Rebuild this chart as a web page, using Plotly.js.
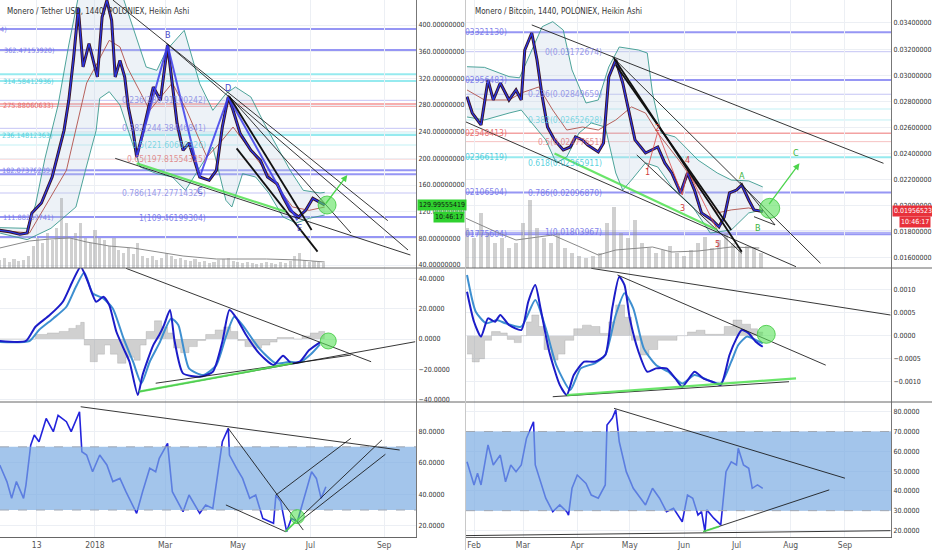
<!DOCTYPE html>
<html><head><meta charset="utf-8">
<script src="https://cdn.plot.ly/plotly-3.0.1.min.js"></script>
<style>html,body{margin:0;padding:0;background:#fff;}#chart{width:932px;height:550px;}</style>
</head><body><div id="chart"></div>
<script>
// ================= LEFT: Monero / Tether USD =================
const usdTitle = 'Monero / Tether USD, 1440, POLONIEX, Heikin Ashi';
const usdDates = ['2017-10-13','2017-10-21','2017-10-30','2017-11-05','2017-11-09','2017-11-17','2017-11-26','2017-12-02','2017-12-06','2017-12-10','2017-12-14','2017-12-18','2017-12-22','2017-12-27','2018-01-03','2018-01-07','2018-01-11','2018-01-15','2018-01-18','2018-01-22','2018-01-26','2018-01-29','2018-02-02','2018-02-05','2018-02-10','2018-02-19','2018-02-25','2018-03-03','2018-03-07','2018-03-11','2018-03-16','2018-03-21','2018-03-30','2018-04-07','2018-04-13','2018-04-18','2018-04-23','2018-04-27','2018-05-03','2018-05-12','2018-05-20','2018-05-26','2018-06-03','2018-06-08','2018-06-14','2018-06-21','2018-06-27','2018-07-03','2018-07-08','2018-07-13'];
const usdClose = [92,90,86,88,118,133,172,212,242,287,350,425,337,372,322,412,437,407,322,347,322,277,242,202,237,307,287,370,307,252,212,223,172,167,182,247,292,272,237,212,197,172,162,142,122,112,122,140,135,130];
const usdUpperDates = ['2017-10-13','2017-11-05','2017-11-12','2017-11-20','2017-12-01','2017-12-10','2017-12-20','2018-01-10','2018-01-22','2018-02-02','2018-02-13','2018-02-22','2018-03-02','2018-03-17','2018-03-30','2018-04-10','2018-04-21','2018-04-29','2018-05-12','2018-05-23','2018-06-03','2018-06-14','2018-06-25','2018-07-09','2018-07-13'];
const usdUpper = [96,95,130,200,280,370,460,480,455,397,337,332,362,392,312,272,297,307,292,253,217,182,152,148,149];
const usdLowerDates = ['2017-10-13','2017-11-05','2017-11-25','2017-12-16','2017-12-24','2018-01-02','2018-01-05','2018-01-13','2018-01-22','2018-01-30','2018-02-08','2018-02-22','2018-03-07','2018-03-18','2018-03-30','2018-04-10','2018-04-21','2018-04-26','2018-05-05','2018-05-16','2018-05-27','2018-06-08','2018-06-19','2018-06-30','2018-07-13'];
const usdLower = [88,78,95,127,182,242,290,300,280,237,187,177,172,152,187,217,137,127,177,172,148,112,103,110,115];
const usdMidDates = ['2017-10-13','2017-11-07','2017-12-08','2017-12-16','2017-12-25','2018-01-13','2018-01-22','2018-01-28','2018-02-16','2018-03-07','2018-03-19','2018-04-05','2018-04-16','2018-04-27','2018-05-13','2018-05-30','2018-06-16','2018-06-30','2018-07-13'];
const usdMid = [92,88,182,242,313,377,367,337,272,313,272,202,223,247,208,167,127,122,127];
const usdWaveDates = ['2018-02-05','2018-03-03','2018-03-30','2018-04-23','2018-06-20'];
const usdWave = [202,370,172,292,107];
const usdVolDates = ['2017-10-13','2017-10-17','2017-10-21','2017-10-25','2017-10-29','2017-11-02','2017-11-06','2017-11-10','2017-11-14','2017-11-18','2017-11-22','2017-11-26','2017-11-30','2017-12-04','2017-12-08','2017-12-12','2017-12-16','2017-12-20','2017-12-24','2017-12-28','2018-01-01','2018-01-05','2018-01-09','2018-01-13','2018-01-17','2018-01-21','2018-01-25','2018-01-29','2018-02-02','2018-02-06','2018-02-10','2018-02-14','2018-02-18','2018-02-22','2018-02-26','2018-03-02','2018-03-06','2018-03-10','2018-03-14','2018-03-18','2018-03-22','2018-03-26','2018-03-30','2018-04-03','2018-04-07','2018-04-11','2018-04-15','2018-04-19','2018-04-23','2018-04-27','2018-05-01','2018-05-05','2018-05-09','2018-05-13','2018-05-17','2018-05-21','2018-05-25','2018-05-29','2018-06-02','2018-06-06','2018-06-10','2018-06-14','2018-06-18','2018-06-22','2018-06-26','2018-06-30','2018-07-04','2018-07-08','2018-07-12'];
const usdVol = [8,10,6,9,7,8,12,22,30,25,35,28,40,70,45,30,35,45,30,25,38,30,28,22,30,18,15,20,14,25,12,10,12,8,10,15,12,9,10,8,7,9,6,7,5,6,8,9,10,7,6,5,6,5,4,5,6,5,4,6,5,7,12,15,8,6,7,6,5];
const usdVolMaDates = ['2017-10-13','2017-11-07','2017-11-24','2017-12-11','2017-12-25','2018-01-13','2018-02-02','2018-03-16','2018-04-13','2018-05-25','2018-06-22','2018-07-13'];
const usdVolMa = [20,27,29,30,26,22,20,12,9,9,8,6];
const usdFibLevels = [394,362.5,326,316,287,280,245,238,235,220,199,182,176,148,112,82];
const usdFibStyle  = ['P','P','C','C','p','R','p','c','C','c','r','P','P','p','P','P'];
const usdEdgeLabels = ['4)','362.47153920)','314.58412936)','275.88060633)','236.14812363)','182.07376239)','111.88267741)'];
const usdEdgeLevels = [394,362.5,316,280,235,182,112];
const usdEdgeStyle  = ['P','P','C','R','C','P','P'];
const usdEdgeEnd = [9,57,56,56,55,55,56];
const usdInnerLabels = ['0.236(286.91100242)','0.382(244.38446841)','0.5(221.60669326)','0.65(197.81554325)','0.786(147.27714325)','1(109.46199304)'];
const usdInnerLevels = [287,245,220,199,148,110];
const usdInnerStyle  = ['p','p','c','r','p','P'];
const usdLetters = ['B','C','D','E'];
const usdLetterDates = ['2018-03-03','2018-03-30','2018-04-23','2018-06-22'];
const usdLetterVals = [385,151,305.5,95.5];
const usdTopLines = [['2018-01-16',437.5,'2018-09-04',106.5],['2018-03-02',372.5,'2018-09-21',62.5],['2018-04-23',295,'2018-08-04',88],['2018-01-18',200,'2018-09-23',55]];
const usdTopThick = [['2018-04-24',292.5,'2018-07-02',92.5],['2018-04-30',215,'2018-07-07',60]];
const usdTopGreen = [['2018-02-05',192.5,'2018-06-10',120]];
const usdArrow = ['2018-07-13',130,'2018-08-01',175];
const usdCircle = ['2018-07-15',130];
const usdLast = '129.99555419';
const usdMacdDates = ['2017-10-13','2017-11-04','2017-11-12','2017-11-24','2017-12-05','2017-12-13','2017-12-20','2017-12-26','2018-01-02','2018-01-08','2018-01-13','2018-01-19','2018-01-25','2018-01-30','2018-02-06','2018-02-10','2018-02-19','2018-02-24','2018-02-28','2018-03-05','2018-03-09','2018-03-16','2018-03-30','2018-04-10','2018-04-18','2018-04-24','2018-04-30','2018-05-08','2018-05-19','2018-05-31','2018-06-08','2018-06-15','2018-06-22','2018-06-30','2018-07-09'];
const usdMacd = [-1.3,-1.3,8.1,15.8,24.6,37.8,47.7,37.8,24.6,27.9,22.4,4.8,-6.2,-15,-37,-23.8,-4,2.6,9.2,19.1,-1.8,-22.7,-24.9,-21.6,-1.8,19.1,13.6,2.6,-9.5,-17.2,-11,-16,-15,-7.3,-2.2];
const usdSigDates = ['2017-10-13','2017-11-07','2017-11-15','2017-11-27','2017-12-08','2017-12-16','2017-12-23','2017-12-30','2018-01-08','2018-01-16','2018-01-25','2018-02-02','2018-02-09','2018-02-16','2018-02-24','2018-03-06','2018-03-12','2018-03-21','2018-04-02','2018-04-13','2018-04-21','2018-04-28','2018-05-05','2018-05-19','2018-06-02','2018-06-14','2018-06-22','2018-07-02','2018-07-09'];
const usdSig = [-2,-1.3,6,13.6,21.3,34.5,44,30.2,26.8,20.2,0.4,-15,-29.3,-15,-2.9,13.6,9.2,-19.4,-23.8,-17.2,1.5,14.7,9.2,-6.2,-16,-15,-15.5,-9.5,-3.5];
const usdHistDates = ['2017-10-13','2017-11-06','2017-11-12','2017-11-22','2017-12-02','2017-12-10','2017-12-16','2017-12-20','2017-12-23','2017-12-28','2018-01-03','2018-01-09','2018-01-14','2018-01-20','2018-01-27','2018-02-03','2018-02-08','2018-02-13','2018-02-20','2018-02-26','2018-03-03','2018-03-08','2018-03-14','2018-03-21','2018-03-28','2018-04-04','2018-04-12','2018-04-19','2018-04-25','2018-05-01','2018-05-07','2018-05-14','2018-05-21','2018-05-28','2018-06-03','2018-06-10','2018-06-17','2018-06-24','2018-07-01','2018-07-08','2018-07-13'];
const usdHist = [0,0,3,4,5,7,9,11,-4,-15,-10,-4,-10,-16,-12,-14,-4,5,12,8,4,-6,-9,-5,-1,3,6,8,5,-1,-5,-6,-4,-2,1,1,0,2,4,5,3];
const usdMacdLines = [['2018-01-27',46.7,'2018-08-21',-15],['2018-02-07',-34.8,'2018-09-27',-1.8],['2018-02-21',-29.2,'2018-08-04',-10.6]];
const usdMacdGreen = [['2018-02-07',-34.8,'2018-06-16',-16]];
const usdMacdCircle = ['2018-07-16',-1.3];
const usdRsiDates = ['2017-10-13','2017-10-19','2017-10-23','2017-10-27','2017-11-02','2017-11-04','2017-11-08','2017-11-11','2017-11-15','2017-11-21','2017-11-27','2017-12-01','2017-12-08','2017-12-12','2017-12-19','2017-12-21','2017-12-25','2017-12-30','2018-01-05','2018-01-11','2018-01-16','2018-01-22','2018-01-27','2018-02-05','2018-02-10','2018-02-16','2018-02-21','2018-02-24','2018-03-03','2018-03-07','2018-03-16','2018-03-21','2018-03-30','2018-04-04','2018-04-10','2018-04-14','2018-04-18','2018-04-23','2018-04-24','2018-04-30','2018-05-05','2018-05-11','2018-05-16','2018-05-22','2018-05-31','2018-06-02','2018-06-06','2018-06-11','2018-06-15','2018-06-20','2018-06-25','2018-07-02','2018-07-06','2018-07-10','2018-07-14'];
const usdRsi = [58.5,48,37.4,48,37.4,45.8,71,77.5,73.2,88,79.6,90,85.9,79.6,92.2,66.9,64.8,54.2,64.8,58.5,48,50,41.6,27.9,41.6,56.4,54.2,62.7,72.2,41.6,28.9,39.5,27.9,33.2,31,52.2,73.2,81.7,64.8,56.4,50,37.4,39.5,24.7,21.6,39.5,35.3,16.3,24.7,22.6,35.3,54.2,50,37.4,44.7];
const usdRsiLines = [['2017-12-20',95.4,'2018-09-14',68],['2018-04-23',81.7,'2018-06-25',17.3],['2018-04-21',33.2,'2018-06-10',16.3],['2018-06-02',39.5,'2018-08-04',75.4],['2018-06-10',16.3,'2018-08-30',74.3],['2018-06-20',21.6,'2018-09-02',65.3]];
const usdRsiGreen = [['2018-06-10',16.3,'2018-06-22',25]];
const usdRsiCircle = ['2018-06-20',25.8];
const usdTickVals = ['2017-11-13','2018-01-01','2018-03-01','2018-05-01','2018-07-01','2018-09-01'];
const usdTickText = ['13','2018','Mar','May','Jul','Sep'];

// ================= RIGHT: Monero / Bitcoin =================
const btcTitle = 'Monero / Bitcoin, 1440, POLONIEX, Heikin Ashi';
const btcDates = ['2018-01-28','2018-01-31','2018-02-05','2018-02-09','2018-02-12','2018-02-16','2018-02-21','2018-02-25','2018-02-28','2018-03-02','2018-03-06','2018-03-09','2018-03-12','2018-03-15','2018-03-19','2018-03-24','2018-03-28','2018-03-31','2018-04-04','2018-04-07','2018-04-13','2018-04-16','2018-04-19','2018-04-23','2018-04-27','2018-05-01','2018-05-04','2018-05-10','2018-05-14','2018-05-17','2018-05-21','2018-05-25','2018-05-30','2018-06-03','2018-06-07','2018-06-11','2018-06-17','2018-06-21','2018-06-24','2018-06-27','2018-07-01','2018-07-04','2018-07-08','2018-07-11','2018-07-16'];
const btcClose = [0.02835,0.0271,0.02619,0.02963,0.0281,0.0294,0.0281,0.02887,0.0281,0.03193,0.03323,0.03117,0.02835,0.02603,0.02504,0.02427,0.0245,0.02527,0.02504,0.02465,0.02412,0.02481,0.02986,0.03117,0.0294,0.0268,0.02504,0.02404,0.02427,0.0245,0.02328,0.02251,0.02098,0.02251,0.0212,0.01945,0.01891,0.01838,0.01914,0.02098,0.0212,0.02159,0.02044,0.01968,0.01956];
const btcUpperDates = ['2018-01-28','2018-02-07','2018-02-21','2018-02-27','2018-03-12','2018-03-18','2018-03-24','2018-03-29','2018-04-06','2018-04-13','2018-04-19','2018-04-25','2018-05-06','2018-05-11','2018-05-14','2018-05-19','2018-05-27','2018-06-09','2018-06-20','2018-06-28','2018-07-08','2018-07-16'];
const btcUpper = [0.03065,0.0306,0.02989,0.0298,0.03372,0.0341,0.03346,0.0304,0.02787,0.0281,0.03063,0.03216,0.03193,0.0317,0.02864,0.02557,0.02527,0.0235,0.02251,0.02197,0.0219,0.02144];
const btcLowerDates = ['2018-01-28','2018-02-07','2018-02-21','2018-02-28','2018-03-14','2018-03-20','2018-03-26','2018-04-02','2018-04-09','2018-04-17','2018-04-23','2018-04-27','2018-05-02','2018-05-10','2018-05-17','2018-05-25','2018-06-06','2018-06-16','2018-06-28','2018-07-08','2018-07-16'];
const btcLower = [0.0268,0.02657,0.0271,0.02733,0.02504,0.02328,0.02374,0.02557,0.02634,0.02603,0.02251,0.0212,0.02197,0.02328,0.02297,0.02144,0.01991,0.01791,0.01814,0.01945,0.01968];
const btcMidDates = ['2018-01-28','2018-02-07','2018-02-21','2018-02-28','2018-03-10','2018-03-18','2018-03-26','2018-04-04','2018-04-13','2018-04-23','2018-05-02','2018-05-10','2018-05-17','2018-05-29','2018-06-09','2018-06-20','2018-06-28','2018-07-08','2018-07-16'];
const btcMid = [0.02887,0.0281,0.0281,0.02864,0.0291,0.02733,0.0258,0.02603,0.0258,0.02657,0.02757,0.0271,0.02557,0.0235,0.02144,0.01945,0.01968,0.01983,0.01953];
const btcWaveDates = ['2018-05-11','2018-05-17','2018-05-31','2018-06-03','2018-06-20'];
const btcWave = [0.02274,0.02567,0.02082,0.02274,0.01814];
const btcVolDates = ['2018-01-28','2018-02-01','2018-02-05','2018-02-09','2018-02-13','2018-02-17','2018-02-21','2018-02-25','2018-03-01','2018-03-05','2018-03-09','2018-03-13','2018-03-17','2018-03-21','2018-03-25','2018-03-29','2018-04-02','2018-04-06','2018-04-10','2018-04-14','2018-04-18','2018-04-22','2018-04-26','2018-04-30','2018-05-04','2018-05-08','2018-05-12','2018-05-16','2018-05-20','2018-05-24','2018-05-28','2018-06-01','2018-06-05','2018-06-09','2018-06-13','2018-06-17','2018-06-21','2018-06-25','2018-06-29','2018-07-03','2018-07-07','2018-07-11','2018-07-15'];
const btcVol = [40,30,55,35,25,30,20,25,45,68,40,30,25,35,20,15,12,10,12,15,45,61,35,30,48,25,20,15,18,22,15,12,18,25,31,20,28,35,25,18,22,20,15];
const btcVolMaDates = ['2018-01-27','2018-02-15','2018-02-25','2018-03-18','2018-04-04','2018-04-13','2018-04-23','2018-05-14','2018-05-25','2018-06-09','2018-06-28','2018-07-14'];
const btcVolMa = [50,35,28,33,20,13,18,21,16,17,21,20];
const btcFibLevels = [0.03329,0.0318,0.02963,0.02854,0.02741,0.02657,0.02555,0.02491,0.02372,0.02102,0.01801,0.01781];
const btcFibStyle  = ['P','p','P','p','c','c','M','r','C','P','P','P'];
const btcEdgeLabels = ['03321130)','02956483)','02548413)','02366119)','02106504)','01775604)'];
const btcEdgeLevels = [0.03329,0.02963,0.02555,0.02372,0.02102,0.01781];
const btcEdgeStyle  = ['P','P','M','C','P','P'];
const btcInnerLabels = ['0(0.03172674)','0.236(0.02849659)','0.382(0.02652628)','0.5(0.02477651)','0.618(0.02365911)','0.786(0.02096870)','1(0.01803967)'];
const btcInnerLevels = [0.0318,0.02854,0.02657,0.02491,0.0233,0.02095,0.01801];
const btcInnerStyle  = ['p','p','c','r','C','P','P'];
const btcLetters = ['A','B','C'];
const btcLetterDates = ['2018-07-04','2018-07-13','2018-08-04'];
const btcLetterVals = [0.02228,0.0183,0.02404];
const btcNums = ['1','2','3','4','5'];
const btcNumDates = ['2018-05-11','2018-05-17','2018-05-31','2018-06-03','2018-06-20'];
const btcNumVals = [0.02259,0.02596,0.01983,0.02351,0.01707];
const btcTopLines = [['2018-03-06',0.03385,'2018-09-23',0.02325],['2018-04-21',0.03142,'2018-08-18',0.01559],['2018-01-27',0.02644,'2018-08-04',0.01533],['2018-05-05',0.02389,'2018-07-04',0.01636],['2018-07-03',0.02184,'2018-07-23',0.01853],['2018-07-11',0.01916,'2018-07-23',0.01853]];
const btcTopThick = [['2018-04-22',0.0313,'2018-07-04',0.01648],['2018-04-23',0.03078,'2018-06-28',0.01814]];
const btcTopGreen = [['2018-03-19',0.024,'2018-06-20',0.01814]];
const btcArrow = ['2018-07-19',0.02,'2018-08-06',0.02325];
const btcCircle = ['2018-07-20',0.0198];
const btcLast = '0.01956523';
const btcMacdDates = ['2018-01-28','2018-02-01','2018-02-05','2018-02-09','2018-02-13','2018-02-16','2018-02-21','2018-02-28','2018-03-04','2018-03-08','2018-03-11','2018-03-16','2018-03-22','2018-03-26','2018-03-30','2018-04-05','2018-04-11','2018-04-17','2018-04-21','2018-04-25','2018-04-28','2018-05-01','2018-05-06','2018-05-11','2018-05-16','2018-05-22','2018-05-27','2018-05-31','2018-06-07','2018-06-12','2018-06-17','2018-06-22','2018-06-27','2018-07-01','2018-07-04','2018-07-08','2018-07-12','2018-07-16'];
const btcMacd = [0.000957,0.000304,-0.00002,0.000378,0.000304,0.00045,0.000233,0.000124,0.000739,0.0011,0.000596,-0.000348,-0.00107,-0.00129,-0.000855,-0.000565,-0.000565,-0.00042,0.000596,0.00128,0.0011,0.000378,-0.000348,-0.000783,-0.00071,-0.00071,-0.000927,-0.00111,-0.000783,-0.000927,-0.001,-0.00107,-0.00042,-0.000057,0.000124,0.00005,-0.00013,-0.00024];
const btcSigDates = ['2018-01-28','2018-02-02','2018-02-08','2018-02-14','2018-02-19','2018-02-28','2018-03-08','2018-03-14','2018-03-20','2018-03-28','2018-04-03','2018-04-11','2018-04-17','2018-04-23','2018-04-28','2018-05-03','2018-05-09','2018-05-16','2018-05-23','2018-05-31','2018-06-07','2018-06-15','2018-06-22','2018-06-28','2018-07-02','2018-07-07','2018-07-12','2018-07-16'];
const btcSig = [0.00132,0.000522,0.00027,0.00034,0.00027,0.000196,0.000776,0.000161,-0.000637,-0.00118,-0.00071,-0.0006,-0.00042,0.00045,0.000922,0.000596,-0.000274,-0.000637,-0.000783,-0.00104,-0.000855,-0.00097,-0.00104,-0.000565,-0.000202,-0.00002,-0.000094,-0.000166];
const btcHistDates = ['2018-01-28','2018-01-31','2018-02-04','2018-02-07','2018-02-11','2018-02-16','2018-02-20','2018-02-24','2018-02-28','2018-03-03','2018-03-06','2018-03-10','2018-03-13','2018-03-17','2018-03-21','2018-03-25','2018-03-30','2018-04-04','2018-04-09','2018-04-14','2018-04-19','2018-04-23','2018-04-28','2018-05-02','2018-05-07','2018-05-12','2018-05-17','2018-05-22','2018-05-28','2018-06-03','2018-06-08','2018-06-13','2018-06-19','2018-06-24','2018-06-29','2018-07-04','2018-07-09','2018-07-13','2018-07-16'];
const btcHist = [-0.0004,-0.00057,-0.0005,-0.0001,0.00009,0.00006,-0.00008,-0.00015,0,0.0003,0.00045,0.0002,-0.0003,-0.00053,-0.0004,-0.0001,0.00015,0.00023,0.0002,0.00005,0.0003,0.00067,0.0004,-0.0001,-0.00042,-0.0003,-0.0001,-0.0001,0,0.00008,0.00012,0.00003,0.00003,0.0002,0.00034,0.00025,0.00015,0.00008,0.00005];
const btcMacdLines = [['2018-04-09',0.001465,'2018-09-27',0.00045],['2018-04-24',0.00132,'2018-08-21',-0.00064],['2018-03-18',-0.001326,'2018-07-31',-0.001]];
const btcMacdGreen = [['2018-03-26',-0.00129,'2018-08-04',-0.000926]];
const btcMacdCircle = ['2018-07-18',0.00003];
const btcRsiDates = ['2018-01-28','2018-02-01','2018-02-03','2018-02-05','2018-02-09','2018-02-12','2018-02-16','2018-02-19','2018-02-22','2018-02-25','2018-02-28','2018-03-03','2018-03-07','2018-03-08','2018-03-14','2018-03-18','2018-03-22','2018-03-26','2018-03-27','2018-03-29','2018-04-01','2018-04-06','2018-04-09','2018-04-13','2018-04-17','2018-04-18','2018-04-21','2018-04-23','2018-04-25','2018-04-29','2018-05-03','2018-05-07','2018-05-10','2018-05-14','2018-05-18','2018-05-22','2018-05-26','2018-05-31','2018-06-03','2018-06-06','2018-06-09','2018-06-11','2018-06-13','2018-06-14','2018-06-18','2018-06-22','2018-06-25','2018-06-28','2018-07-01','2018-07-02','2018-07-05','2018-07-08','2018-07-10','2018-07-13','2018-07-16'];
const btcRsi = [54.7,43,48.9,43,63.2,53.1,58.1,44.6,53.1,49.7,53.1,66.6,74.9,53.1,36.3,29.5,32.9,29.5,27.8,41.3,48,43.8,37.9,36.3,43,73.3,76.7,80.9,64.8,49.7,41.3,36.3,32.9,41.3,36.3,29.5,31.2,24.4,37.9,36.3,27.8,29.5,19.4,30.4,26.2,22.8,49.7,54.7,53.1,61.5,53.1,51.4,41.3,43,41.3];
const btcRsiLines = [['2018-04-22',81.7,'2018-09-01',46.4],['2018-06-12',19.4,'2018-08-23',40.5],['2018-01-27',17.4,'2018-09-27',19.9]];
const btcRsiGreen = [['2018-06-12',19.4,'2018-06-21',22]];
const btcTickVals = ['2018-02-01','2018-03-01','2018-04-01','2018-05-01','2018-06-01','2018-07-01','2018-08-01','2018-09-01'];
const btcTickText = ['Feb','Mar','Apr','May','Jun','Jul','Aug','Sep'];
const lastTime = '10:46:17';
const rsiBand = [30, 70];

// ================= layout geometry / styles =================
const W = 932, H = 550;
const XL = [0, 416/W], XR = [466/W, 891/W];
const YT = [1-268/H, 1], YM = [1-402/H, 1-268/H], YB = [1-537/H, 1-402/H];
const FONT = "'Liberation Sans Narrow','DejaVu Sans Condensed','Liberation Sans',Arial,sans-serif";
const fibStyles = {
  P:{color:'rgba(115,115,240,0.75)', width:2, text:'rgba(110,110,230,0.85)'},
  p:{color:'rgba(140,140,235,0.5)', width:1, text:'rgba(130,130,225,0.8)'},
  C:{color:'rgba(80,220,228,0.6)', width:2, text:'rgba(60,200,215,0.85)'},
  c:{color:'rgba(120,225,232,0.45)', width:1, text:'rgba(90,205,220,0.75)'},
  R:{color:'rgba(240,110,110,0.55)', width:4, text:'rgba(225,90,90,0.85)'},
  M:{color:'rgba(235,100,100,0.6)', width:1.5, text:'rgba(225,90,90,0.85)'},
  r:{color:'rgba(235,120,120,0.45)', width:1, text:'rgba(220,110,110,0.75)'}
};

function xAxis(domain, range, anchor, tv, tt, labels) {
  return {type:'date', domain, range, anchor, tickvals:tv, ticktext:tt, showticklabels:labels,
    showgrid:true, gridcolor:'#eceff4', zeroline:false, showline:labels, linecolor:'#666', ticks:'',
    tickfont:{size:8.5, color:'#555', family:FONT}, fixedrange:true};
}
function yAxis(domain, range, anchor, dtick, fmt) {
  return {domain, range, anchor, side:'right', tick0:0, dtick, tickformat:fmt, showgrid:true, gridcolor:'#eceff4',
    zeroline:false, showline:true, linecolor:'#777', linewidth:1, ticks:'', tickfont:{size:7, color:'#333', family:FONT}, fixedrange:true};
}

const traces = [];
function panelTraces(xa, ya, yv, d) {
  traces.push({x:d.upX, y:d.up, xaxis:xa, yaxis:ya, mode:'lines', line:{color:'#3a9a8e', width:0.9}});
  traces.push({x:d.loX, y:d.lo, xaxis:xa, yaxis:ya, mode:'lines', line:{color:'#3a9a8e', width:0.9}, fill:'tonexty', fillcolor:'rgba(190,210,226,0.28)'});
  traces.push({x:d.midX, y:d.mid, xaxis:xa, yaxis:ya, mode:'lines', line:{color:'#b0504a', width:0.9}});
  traces.push({x:d.px, y:d.py, xaxis:xa, yaxis:ya, mode:'lines', line:{color:'#3a1420', width:3}});
  traces.push({x:d.px, y:d.py, xaxis:xa, yaxis:ya, mode:'lines', line:{color:'#2a35e0', width:1.3}});
  traces.push({x:d.wX, y:d.w, xaxis:xa, yaxis:ya, mode:'lines', line:{color:d.wColor, width:d.wWidth}});
  traces.push({x:d.vX, y:d.v, xaxis:xa, yaxis:yv, type:'bar', width:2.6*86400000, marker:{color:'rgba(150,150,150,0.45)'}});
  traces.push({x:d.vmX, y:d.vm, xaxis:xa, yaxis:yv, mode:'lines', line:{color:'#8a8a8a', width:1}});
}
panelTraces('x','y','y7',{upX:usdUpperDates, up:usdUpper, loX:usdLowerDates, lo:usdLower, midX:usdMidDates, mid:usdMid,
  px:usdDates, py:usdClose, wX:usdWaveDates, w:usdWave, wColor:'rgba(60,60,235,0.85)', wWidth:2, vX:usdVolDates, v:usdVol, vmX:usdVolMaDates, vm:usdVolMa});
panelTraces('x4','y4','y8',{upX:btcUpperDates, up:btcUpper, loX:btcLowerDates, lo:btcLower, midX:btcMidDates, mid:btcMid,
  px:btcDates, py:btcClose, wX:btcWaveDates, w:btcWave, wColor:'rgba(220,70,70,0.8)', wWidth:1, vX:btcVolDates, v:btcVol, vmX:btcVolMaDates, vm:btcVolMa});

function macdTraces(xa, ya, hx, hy, mx, my, sx, sy) {
  traces.push({x:hx, y:hy, xaxis:xa, yaxis:ya, mode:'lines', line:{color:'rgba(150,150,150,0.6)', width:0.5, shape:'hv'}, fill:'tozeroy', fillcolor:'rgba(150,150,150,0.45)'});
  traces.push({x:sx, y:sy, xaxis:xa, yaxis:ya, mode:'lines', line:{color:'#3d8fd0', width:2, shape:'spline', smoothing:0.6}});
  traces.push({x:mx, y:my, xaxis:xa, yaxis:ya, mode:'lines', line:{color:'#1c1cc8', width:2, shape:'spline', smoothing:0.6}});
}
macdTraces('x2','y2', usdHistDates, usdHist, usdMacdDates, usdMacd, usdSigDates, usdSig);
macdTraces('x5','y5', btcHistDates, btcHist, btcMacdDates, btcMacd, btcSigDates, btcSig);
traces.push({x:usdRsiDates, y:usdRsi, xaxis:'x3', yaxis:'y3', mode:'lines', line:{color:'#2424dc', width:1.6}});
traces.push({x:btcRsiDates, y:btcRsi, xaxis:'x6', yaxis:'y6', mode:'lines', line:{color:'#2424dc', width:1.6}});

// ---------- shapes ----------
const shapes = [];
function fibShapes(levels, styles, xd, yr) {
  levels.forEach((v,i) => { const s = fibStyles[styles[i]];
    shapes.push({type:'line', xref:xd, yref:yr, x0:0, x1:1, y0:v, y1:v, line:{color:s.color, width:s.width}, layer:'below'}); });
}
fibShapes(usdFibLevels, usdFibStyle, 'x domain', 'y');
fibShapes(btcFibLevels, btcFibStyle, 'x4 domain', 'y4');
function bandShapes(xd, yr) {
  shapes.push({type:'rect', xref:xd, yref:yr, x0:0, x1:1, y0:rsiBand[0], y1:rsiBand[1], fillcolor:'rgba(120,170,225,0.68)', line:{width:0}, layer:'above'});
  rsiBand.forEach(v => shapes.push({type:'line', xref:xd, yref:yr, x0:0, x1:1, y0:v, y1:v, line:{color:'#a0a8b4', width:1, dash:'dash'}, layer:'above'}));
}
bandShapes('x3 domain','y3');
bandShapes('x6 domain','y6');
function lineShapes(list, xr, yr, color, width) {
  list.forEach(s => shapes.push({type:'line', xref:xr, yref:yr, x0:s[0], y0:s[1], x1:s[2], y1:s[3], line:{color, width}, layer:'above'}));
}
const BLK = 'rgba(20,20,20,0.85)', GRN = 'rgba(80,225,80,0.85)';
lineShapes(usdTopLines,'x','y',BLK,1); lineShapes(usdTopThick,'x','y','#111',1.8); lineShapes(usdTopGreen,'x','y',GRN,2.2);
lineShapes(usdMacdLines,'x2','y2',BLK,1); lineShapes(usdMacdGreen,'x2','y2',GRN,2.2);
lineShapes(usdRsiLines,'x3','y3',BLK,1); lineShapes(usdRsiGreen,'x3','y3',GRN,2);
lineShapes(btcTopLines,'x4','y4',BLK,1); lineShapes(btcTopThick,'x4','y4','#111',1.8); lineShapes(btcTopGreen,'x4','y4',GRN,2.2);
lineShapes(btcMacdLines,'x5','y5',BLK,1); lineShapes(btcMacdGreen,'x5','y5',GRN,2.2);
lineShapes(btcRsiLines,'x6','y6',BLK,1); lineShapes(btcRsiGreen,'x6','y6',GRN,2);
function circle(c, xr, yr, r) {
  shapes.push({type:'circle', xref:xr, yref:yr, xsizemode:'pixel', ysizemode:'pixel', xanchor:c[0], yanchor:c[1],
    x0:-r, x1:r, y0:-r, y1:r, fillcolor:'rgba(90,225,90,0.6)', line:{color:'rgba(60,200,60,0.8)', width:1}, layer:'above'});
}
circle(usdCircle,'x','y',9); circle(usdMacdCircle,'x2','y2',8); circle(usdRsiCircle,'x3','y3',7);
circle(btcCircle,'x4','y4',10); circle(btcMacdCircle,'x5','y5',9);
// pane separators
[[0,465/W],[466/W,1]].forEach(xx => [1-268/H, 1-402/H].forEach(yy =>
  shapes.push({type:'line', xref:'paper', yref:'paper', x0:xx[0], x1:xx[1], y0:yy, y1:yy, line:{color:'#666', width:1}})));
shapes.push({type:'line', xref:'paper', yref:'paper', x0:465.5/W, x1:465.5/W, y0:0, y1:1, line:{color:'#c8c8c8', width:1}});

// ---------- annotations ----------
const ann = [];
ann.push({xref:'paper', yref:'paper', x:5/W, y:1-11/H, xanchor:'left', yanchor:'middle', text:usdTitle, showarrow:false, font:{size:8, color:'#333', family:FONT}});
ann.push({xref:'paper', yref:'paper', x:473/W, y:1-11/H, xanchor:'left', yanchor:'middle', text:btcTitle, showarrow:false, font:{size:8, color:'#333', family:FONT}});
function fibLabels(texts, levels, styles, yr, xEnd, size) {
  texts.forEach((t,i) => ann.push({xref:'paper', yref:yr, x:(Array.isArray(xEnd) ? xEnd[i] : xEnd)/W, y:levels[i], xanchor:'right', yanchor:'middle', text:t,
    showarrow:false, font:{size:size, color:fibStyles[styles[i]].text, family:FONT}}));
}
fibLabels(usdEdgeLabels, usdEdgeLevels, usdEdgeStyle, 'y', usdEdgeEnd, 7.3);
fibLabels(usdInnerLabels, usdInnerLevels, usdInnerStyle, 'y', 208, 8.5);
fibLabels(btcEdgeLabels, btcEdgeLevels, btcEdgeStyle, 'y4', 509, 8.5);
fibLabels(btcInnerLabels, btcInnerLevels, btcInnerStyle, 'y4', 604, 8.5);
function letters(t, d, v, xr, yr, color) {
  t.forEach((s,i) => ann.push({xref:xr, yref:yr, x:d[i], y:v[i], text:s, showarrow:false, font:{size:9, color, family:FONT}}));
}
letters(usdLetters, usdLetterDates, usdLetterVals, 'x', 'y', '#4848c8');
letters(btcLetters, btcLetterDates, btcLetterVals, 'x4', 'y4', '#3cb43c');
letters(btcNums, btcNumDates, btcNumVals, 'x4', 'y4', '#d03c3c');
function arrow(a, xr, yr) {
  ann.push({xref:xr, yref:yr, axref:xr, ayref:yr, x:a[2], y:a[3], ax:a[0], ay:a[1], text:'', showarrow:true,
    arrowhead:2, arrowsize:1, arrowwidth:1.3, arrowcolor:'#4cd44c'});
}
arrow(usdArrow,'x','y'); arrow(btcArrow,'x4','y4');
// last price tags
ann.push({xref:'paper', yref:'y', x:417/W, y:usdClose[usdClose.length-1], xanchor:'left', yanchor:'middle', text:usdLast, showarrow:false, bgcolor:'#2fd12f', borderpad:1, font:{size:7, color:'#111', family:FONT}});
ann.push({xref:'paper', yref:'y', x:465/W, y:112, xanchor:'right', yanchor:'middle', text:lastTime, showarrow:false, bgcolor:'#2fd12f', borderpad:1, font:{size:7, color:'#111', family:FONT}});
ann.push({xref:'paper', yref:'y4', x:892/W, y:btcClose[btcClose.length-1], xanchor:'left', yanchor:'middle', text:btcLast, showarrow:false, bgcolor:'#e8303a', borderpad:1, font:{size:7, color:'#fff', family:FONT}});
ann.push({xref:'paper', yref:'y4', x:931/W, y:0.01876, xanchor:'right', yanchor:'middle', text:lastTime, showarrow:false, bgcolor:'#e8303a', borderpad:1, font:{size:7, color:'#fff', family:FONT}});

const usdRange = ['2017-10-13 05:00','2018-09-27 17:00'];
const btcRange = ['2018-01-27 10:00','2018-09-27 07:00'];
const layout = {
  width:W, height:H, margin:{l:0,r:0,t:0,b:0}, paper_bgcolor:'#fff', plot_bgcolor:'#fff',
  showlegend:false, hovermode:false, bargap:0, font:{family:FONT},
  xaxis: xAxis(XL, usdRange, 'y', usdTickVals, usdTickText, false),
  xaxis2: xAxis(XL, usdRange, 'y2', usdTickVals, usdTickText, false),
  xaxis3: xAxis(XL, usdRange, 'y3', usdTickVals, usdTickText, true),
  xaxis4: xAxis(XR, btcRange, 'y4', btcTickVals, btcTickText, false),
  xaxis5: xAxis(XR, btcRange, 'y5', btcTickVals, btcTickText, false),
  xaxis6: xAxis(XR, btcRange, 'y6', btcTickVals, btcTickText, true),
  yaxis: yAxis(YT, [35.5, 437.5], 'x', 40, '.8f'),
  yaxis2: yAxis(YM, [-41.6, 46.9], 'x2', 20, '.4f'),
  yaxis3: yAxis(YB, [12.9, 98.4], 'x3', 20, '.4f'),
  yaxis4: yAxis(YT, [0.01523, 0.03576], 'x4', 0.002, '.8f'),
  yaxis5: yAxis(YM, [-0.001441, 0.001472], 'x5', 0.0005, '.4f'),
  yaxis6: yAxis(YB, [16.7, 84.9], 'x6', 10, '.4f'),
  yaxis7: {overlaying:'y', anchor:'x', range:[0, 268], visible:false, fixedrange:true},
  yaxis8: {overlaying:'y4', anchor:'x4', range:[0, 268], visible:false, fixedrange:true},
  shapes, annotations: ann
};
Plotly.newPlot('chart', traces, layout, {staticPlot:true, displayModeBar:false});
</script></body></html>
